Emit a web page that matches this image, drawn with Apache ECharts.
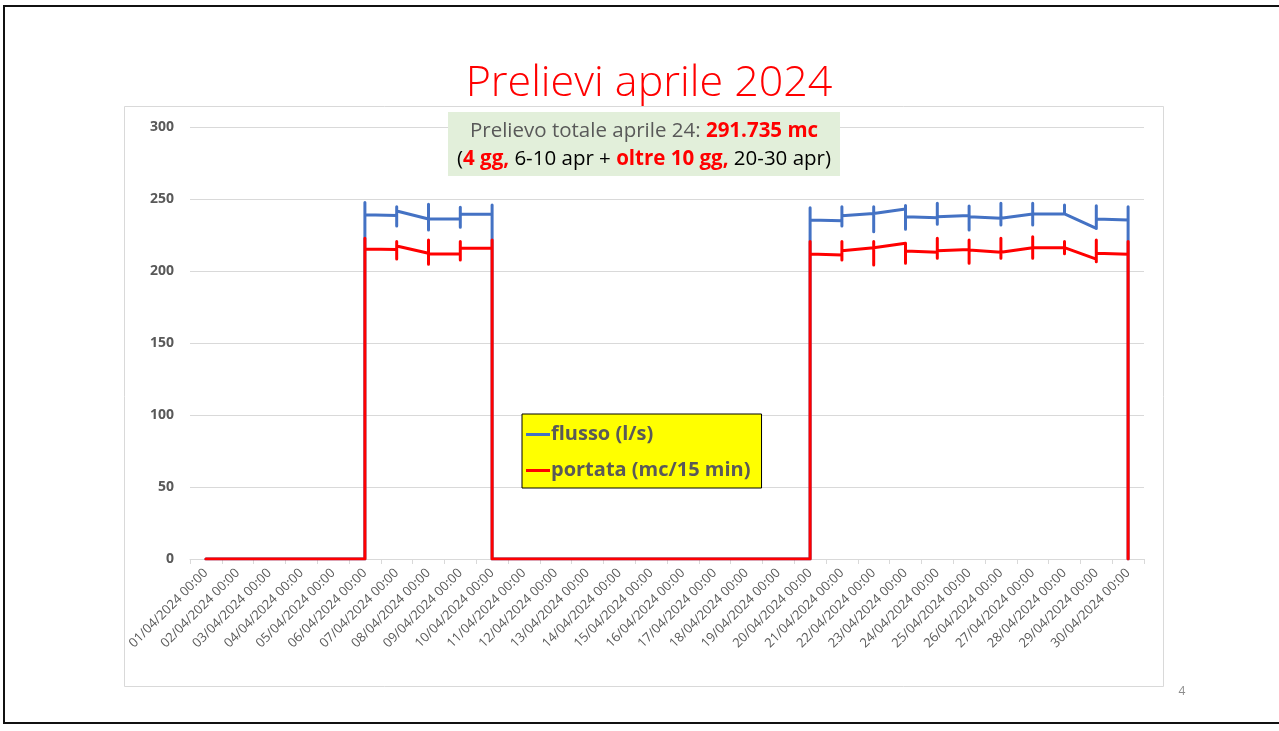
<!DOCTYPE html>
<html>
<head>
<meta charset="utf-8">
<script src="https://cdn.jsdelivr.net/npm/echarts@6/dist/echarts.min.js"></script>
<style>
html,body{margin:0;padding:0;background:#fff;overflow:hidden;}
#frame{position:absolute;left:3px;top:5px;width:1290px;height:715px;border:2px solid #111;box-sizing:content-box;}
#chart{position:absolute;left:0;top:0;width:1279px;height:731px;}
</style>
</head>
<body>
<div id="frame"></div>
<div id="chart"></div>
<script>
// Category labels (one per day)
const dayLabels = [
  '01/04/2024 00:00','02/04/2024 00:00','03/04/2024 00:00','04/04/2024 00:00','05/04/2024 00:00',
  '06/04/2024 00:00','07/04/2024 00:00','08/04/2024 00:00','09/04/2024 00:00','10/04/2024 00:00',
  '11/04/2024 00:00','12/04/2024 00:00','13/04/2024 00:00','14/04/2024 00:00','15/04/2024 00:00',
  '16/04/2024 00:00','17/04/2024 00:00','18/04/2024 00:00','19/04/2024 00:00','20/04/2024 00:00',
  '21/04/2024 00:00','22/04/2024 00:00','23/04/2024 00:00','24/04/2024 00:00','25/04/2024 00:00',
  '26/04/2024 00:00','27/04/2024 00:00','28/04/2024 00:00','29/04/2024 00:00','30/04/2024 00:00'
];
const yTicks = [0, 50, 100, 150, 200, 250, 300];

// flusso (l/s): [day index from 01/04 00:00, value]
const flusso = [
  [0,0],[5,0],[5,247.5],[5,239],
  [6,238.5],[6,244.7],[6,231.3],[6,241.7],
  [7,236.1],[7,246.3],[7,228.5],[7,236.1],
  [8,236.1],[8,244.2],[8,230.3],[8,239.4],
  [9,239.4],[9,245.8],[9,0],
  [19,0],[19,244],[19,235.4],
  [20,234.9],[20,244.7],[20,231.3],[20,238.4],
  [21,240],[21,244.7],[21,227.3],[21,240],
  [22,243],[22,245.5],[22,229],[22,237.7],
  [23,237],[23,247],[23,232.4],[23,237.7],
  [24,238.6],[24,245.1],[24,228.5],[24,237.7],
  [25,236.6],[25,247],[25,232],[25,236.6],
  [26,239.6],[26,247],[26,232],[26,239.6],
  [27,239.6],[27,245.8],[27,239.6],
  [28,229.6],[28,245.3],[28,229.6],[28,236.1],
  [29,235.4],[29,244.7],[29,0]
];

// portata (mc/15 min)
const portata = [
  [0,0],[5,0],[5,222.7],[5,215.3],
  [6,215],[6,220.4],[6,208.3],[6,217.4],
  [7,212.3],[7,221.5],[7,204.7],[7,211.8],
  [8,211.8],[8,220.4],[8,207.6],[8,215.8],
  [9,215.8],[9,221.5],[9,0],
  [19,0],[19,220.4],[19,211.8],
  [20,211.1],[20,220.4],[20,207.6],[20,214.1],
  [21,216.2],[21,220.4],[21,204.2],[21,216.2],
  [22,219.2],[22,220.4],[22,205.3],[22,213.9],
  [23,213],[23,222.7],[23,208.8],[23,214.1],
  [24,215],[24,221.5],[24,205.3],[24,214.6],
  [25,213],[25,222.7],[25,208.8],[25,213],
  [26,216.2],[26,223.8],[26,208.8],[26,216.2],
  [27,216.2],[27,220.4],[27,212],[27,216.2],
  [28,208.3],[28,221.5],[28,206.5],[28,212.3],
  [29,211.6],[29,220.4],[29,0]
];

const FONT = "'Open Sans', 'Liberation Sans', sans-serif";
const chart = echarts.init(document.getElementById('chart'), null, {renderer: 'canvas'});

chart.setOption({
  animation: false,
  backgroundColor: 'transparent',
  textStyle: {fontFamily: FONT},
  grid: {left: 190, right: 135, top: 127, bottom: 172, containLabel: false},
  legend: {
    show: true,
    data: ['flusso (l/s)', 'portata (mc/15 min)'],
    orient: 'vertical',
    left: 522, top: 414,
    backgroundColor: '#FFFF00',
    borderColor: '#000',
    borderWidth: 1,
    padding: [9, 11, 6, 4],
    itemGap: 13,
    itemWidth: 24,
    itemHeight: 3,
    icon: 'rect',
    selectedMode: false,
    textStyle: {fontFamily: FONT, fontSize: 20, fontWeight: 'bold', color: '#595959', lineHeight: 23, padding: [0,0,0,-4]}
  },
  xAxis: [
    {
      type: 'category',
      data: dayLabels,
      boundaryGap: true,
      axisLine: {show: true, lineStyle: {color: '#D9D9D9', width: 1}},
      axisTick: {show: true, alignWithLabel: false, length: 5, lineStyle: {color: '#D9D9D9'}},
      axisLabel: {interval: 0, rotate: 45, margin: 12, fontSize: 13, color: '#595959', fontFamily: FONT},
      splitLine: {show: false}
    },
    {
      type: 'value',
      min: -0.5, max: 29.5,
      show: false,
      splitLine: {show: false}
    }
  ],
  yAxis: {
    type: 'value',
    min: 0, max: 300, interval: 50,
    axisLine: {show: false},
    axisTick: {show: false},
    axisLabel: {margin: 16, fontSize: 14, fontWeight: 'bold', color: '#595959', fontFamily: FONT,
      formatter: v => (yTicks.indexOf(v) >= 0 ? String(v) : '')},
    splitLine: {show: true, lineStyle: {color: '#D9D9D9', width: 1}}
  },
  series: [
    {
      name: 'flusso (l/s)', type: 'line', xAxisIndex: 1,
      data: flusso, showSymbol: false, symbol: 'none',
      lineStyle: {color: '#4472C4', width: 3, join: 'round', cap: 'round'},
      itemStyle: {color: '#4472C4'}
    },
    {
      name: 'portata (mc/15 min)', type: 'line', xAxisIndex: 1,
      data: portata, showSymbol: false, symbol: 'none',
      lineStyle: {color: '#FF0000', width: 3, join: 'round', cap: 'round'},
      itemStyle: {color: '#FF0000'}
    }
  ],
  graphic: [
    {
      type: 'rect', z: -10, silent: true,
      shape: {x: 124.5, y: 106.5, width: 1039, height: 580},
      style: {fill: '#fff', stroke: '#D9D9D9', lineWidth: 1}
    },
    {
      type: 'text', z: 10, silent: true,
      style: {
        x: 649, y: 84, text: 'Prelievi aprile 2024',
        fill: '#FF0000', font: "300 43px 'Open Sans', sans-serif",
        align: 'center', verticalAlign: 'middle', textAlign: 'center', textVerticalAlign: 'middle'
      }
    },
    {
      type: 'rect', z: 5, silent: true,
      shape: {x: 448, y: 112, width: 392, height: 64},
      style: {fill: '#E2EFDA'}
    },
    {
      type: 'text', z: 10, silent: true,
      style: {
        x: 644, y: 131,
        text: '{g|Prelievo totale aprile 24: }{r|291.735 mc}',
        align: 'center', verticalAlign: 'middle', textAlign: 'center', textVerticalAlign: 'middle',
        rich: {
          g: {fontFamily: FONT, fontSize: 20.5, fill: '#595959', color: '#595959'},
          r: {fontFamily: FONT, fontSize: 20.5, fill: '#FF0000', color: '#FF0000', fontWeight: 'bold'}
        }
      }
    },
    {
      type: 'text', z: 10, silent: true,
      style: {
        x: 644, y: 159,
        text: '{k|(}{r|4 gg,}{k| 6-10 apr + }{r|oltre 10 gg,}{k| 20-30 apr)}',
        align: 'center', verticalAlign: 'middle', textAlign: 'center', textVerticalAlign: 'middle',
        rich: {
          k: {fontFamily: FONT, fontSize: 20.5, fill: '#000', color: '#000'},
          r: {fontFamily: FONT, fontSize: 20.5, fill: '#FF0000', color: '#FF0000', fontWeight: 'bold'}
        }
      }
    },
    {
      type: 'text', z: 10, silent: true,
      style: {
        x: 1182, y: 692, text: '4',
        fill: '#8C8C8C', font: "12px 'Open Sans', sans-serif",
        align: 'center', verticalAlign: 'middle', textAlign: 'center', textVerticalAlign: 'middle'
      }
    }
  ]
});
</script>
</body>
</html>
